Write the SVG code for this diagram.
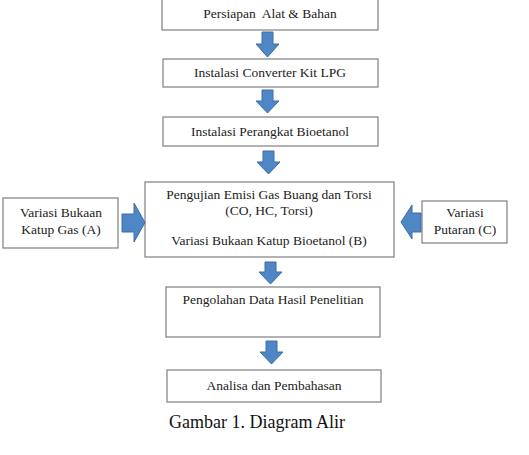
<svg xmlns="http://www.w3.org/2000/svg" width="529" height="455" viewBox="0 0 529 455">
<style>
.box{fill:#fff;stroke:#7f7f7f;stroke-width:1.2}
.t{font-family:"Liberation Serif",serif;font-size:13.5px;fill:#222;text-anchor:middle;white-space:pre}
.arr{fill:#4f86c6;stroke:#3b6ea5;stroke-width:1}
</style>
<rect width="529" height="455" fill="#fff"/>
<g id="n1"><rect class="box" x="162" y="-1" width="216" height="31"/><text class="t" x="270" y="18" xml:space="preserve">Persiapan  Alat &amp; Bahan</text></g>
<g id="n2"><rect class="box" x="163" y="59" width="215" height="28"/><text class="t" x="270" y="77">Instalasi Converter Kit LPG</text></g>
<g id="n3"><rect class="box" x="163" y="117" width="215" height="29"/><text class="t" x="270" y="136">Instalasi Perangkat Bioetanol</text></g>
<g id="n4"><rect class="box" x="145" y="182" width="249" height="75"/>
<text class="t" x="269" y="199">Pengujian Emisi Gas Buang dan Torsi</text>
<text class="t" x="269" y="215">(CO, HC, Torsi)</text>
<text class="t" x="269" y="245">Variasi Bukaan Katup Bioetanol (B)</text></g>
<g id="nA"><rect class="box" x="3" y="198" width="115" height="50"/>
<text class="t" x="61" y="217">Variasi Bukaan</text><text class="t" x="61" y="234">Katup Gas (A)</text></g>
<g id="nC"><rect class="box" x="422" y="201" width="85" height="42"/>
<text class="t" x="465" y="217">Variasi</text><text class="t" x="465" y="234">Putaran (C)</text></g>
<g id="n5"><rect class="box" x="166" y="287" width="214" height="50"/><text class="t" x="273" y="304">Pengolahan Data Hasil Penelitian</text></g>
<g id="n6"><rect class="box" x="167" y="370" width="214" height="32"/><text class="t" x="274" y="390">Analisa dan Pembahasan</text></g>
<text x="257" y="428" font-family="Liberation Serif, serif" font-size="18" fill="#111" text-anchor="middle">Gambar 1. Diagram Alir</text>
<g id="connectors">
<path class="arr" d="M262,32 H273 V44 H279 L267.5,57 L256,44 H262 Z"/>
<path class="arr" d="M262,90 H273 V101 H279 L267.5,113 L256,101 H262 Z"/>
<path class="arr" d="M263,151 H274 V162 H280 L268.5,174 L257,162 H263 Z"/>
<path class="arr" d="M265,262 H276 V272 H282 L270.5,284 L259,272 H265 Z"/>
<path class="arr" d="M266,341 H277 V352 H283 L271.5,364 L260,352 H266 Z"/>
<path class="arr" d="M122,214 V232 H134 V242 L145,222.5 L134,203 V214 Z"/>
<path class="arr" d="M421,213 V232 H412 V239 L401,222 L412,205 V213 Z"/>
</g>
</svg>
